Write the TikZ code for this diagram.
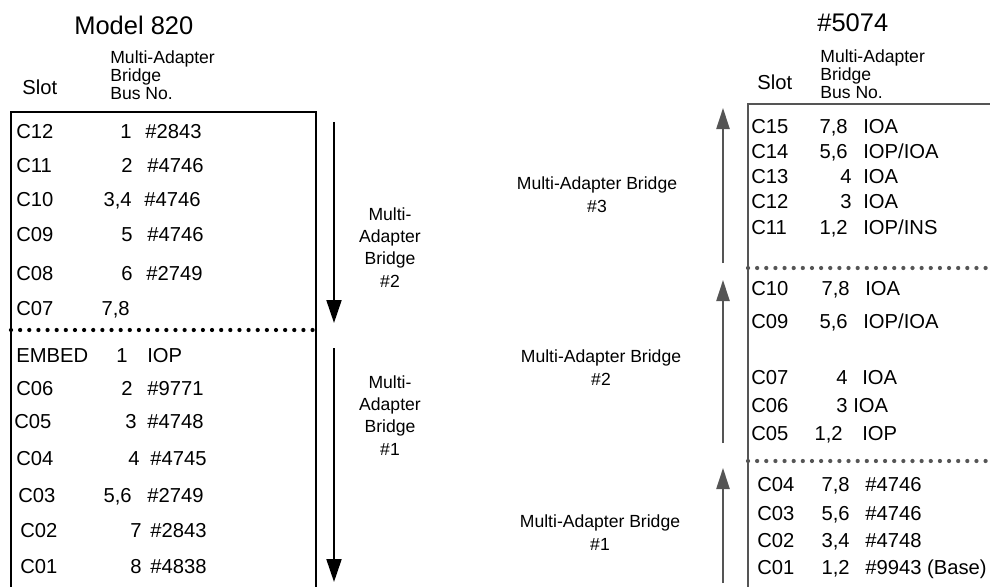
\documentclass[tikz,border=0pt]{standalone}
\usepackage{fontspec}
\setmainfont{Liberation Sans}
\usetikzlibrary{arrows.meta}
\definecolor{ink}{RGB}{0,0,0}
\definecolor{slate}{RGB}{85,85,85}
\tikzset{
  rowtxt/.style={inner sep=0pt,font=\fontsize{11.5}{13}\selectfont},
  slot/.style={rowtxt,anchor=base west},
  busno/.style={rowtxt,anchor=base east},
  card/.style={rowtxt,anchor=base west},
  head/.style={inner sep=0pt,anchor=base west,align=left,font=\fontsize{10}{10.5}\selectfont},
  title/.style={inner sep=0pt,anchor=base west,font=\fontsize{14.5}{16}\selectfont},
  mab/.style={inner sep=0pt,anchor=base,align=center,font=\fontsize{10}{12.6}\selectfont},
  frame/.style={line width=1.1pt},
  sep/.style={line width=2.4pt,line cap=round,dash pattern=on 0pt off 5.2pt},
  down/.style={-{Triangle[length=13pt,width=8.5pt]},line width=1.1pt,ink},
  up/.style={-{Triangle[length=12pt,width=7.5pt]},line width=1.1pt,slate},
}

\begin{document}
\begin{tikzpicture}[x=0.2mm,y=-0.2mm]
  \useasboundingbox (0,0) rectangle (990,587);

  % Model 820
  \node[title] (t820) at (74,35) {Model 820};
  \node[rowtxt,anchor=base west] (lslot) at (22,95) {Slot};
  \node[head] (lhead) at (110,100) {Multi-Adapter\\Bridge\\Bus No.};
  \draw[frame] (11,590) |- (316,112) -- (316,590);
  \draw[sep] (11,330) -- (318,330);
  \foreach \s/\xs/\n/\xn/\c/\xc/\y in {
      C12/16/1/132/\#2843/145/139, C11/16/2/133/\#4746/147/173,
      C10/16/{3,4}/132/\#4746/144/207, C09/16/5/133/\#4746/147/242,
      C08/16/6/133/\#2749/146/280, C07/16/{7,8}/130//146/315,
      EMBED/16/1/128/IOP/147/362, C06/16/2/133/\#9771/147/395,
      C05/14/3/137/\#4748/147/428, C04/16/4/140/\#4745/150/465,
      C03/18/{5,6}/132/\#2749/147/502, C02/20/7/142/\#2843/150/537,
      C01/20/8/142/\#4838/150/573}{
    \node[slot] (l\s) at (\xs,\y) {\s};
    \node[busno] (ln\s) at (\xn,\y) {\n};
    \node[card] (lc\s) at (\xc,\y) {\c};
  }
  \coordinate (ld2a) at (334,122);
  \coordinate (ld2b) at (334,323);
  \coordinate (ld1a) at (334,348);
  \coordinate (ld1b) at (334,582);
  \draw[down] (ld2a) -- (ld2b);
  \draw[down] (ld1a) -- (ld1b);
  \node[mab] (lmab2) at (390,287) {Multi-\\Adapter\\Bridge\\\#2};
  \node[mab] (lmab1) at (390,455) {Multi-\\Adapter\\Bridge\\\#1};

  % #5074
  \node[title] (t5074) at (817,32) {\#5074};
  \node[rowtxt,anchor=base west] (rslot) at (757,90) {Slot};
  \node[head] (rhead) at (820,99) {Multi-Adapter\\Bridge\\Bus No.};
  \draw[frame,slate] (748,590) |- (995,104);
  \draw[sep,slate] (748,268) -- (992,268);
  \draw[sep,slate] (748,461) -- (992,461);
  \foreach \s/\xs/\n/\xn/\c/\xc/\y in {
      C15/751/{7,8}/848/IOA/863/134, C14/751/{5,6}/848/{IOP/IOA}/863/159,
      C13/751/4/852/IOA/863/184, C12/751/3/852/IOA/863/209,
      C11/751/{1,2}/848/{IOP/INS}/863/235,
      C10/751/{7,8}/850/IOA/865/296, C09/751/{5,6}/848/{IOP/IOA}/863/328,
      C07/751/4/848/IOA/862/384, C06/751/3/848/IOA/853/412,
      C05/751/{1,2}/843/IOP/862/440,
      C04/757/{7,8}/850/\#4746/865/491, C03/757/{5,6}/850/\#4746/865/520,
      C02/757/{3,4}/850/\#4748/865/547, C01/757/{1,2}/850/{\#9943 (Base)}/865/574}{
    \node[slot] (r\s) at (\xs,\y) {\s};
    \node[busno] (rn\s) at (\xn,\y) {\n};
    \node[card] (rc\s) at (\xc,\y) {\c};
  }
  \coordinate (ru3a) at (723,263);
  \coordinate (ru3b) at (723,108);
  \coordinate (ru2a) at (723,443);
  \coordinate (ru2b) at (723,280);
  \coordinate (ru1a) at (723,583);
  \coordinate (ru1b) at (723,468);
  \draw[up] (ru3a) -- (ru3b);
  \draw[up] (ru2a) -- (ru2b);
  \draw[up] (ru1a) -- (ru1b);
  \node[mab] (rmab3) at (597,212) {Multi-Adapter Bridge\\\#3};
  \node[mab] (rmab2) at (601,385) {Multi-Adapter Bridge\\\#2};
  \node[mab] (rmab1) at (600,550) {Multi-Adapter Bridge\\\#1};
\end{tikzpicture}
\end{document}
